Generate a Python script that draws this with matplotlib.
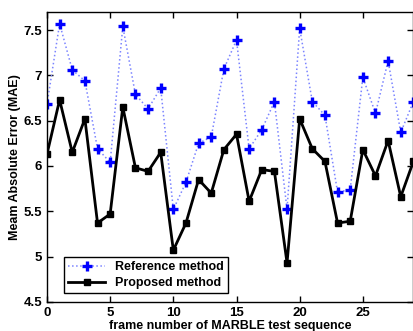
import numpy as np
import matplotlib.pyplot as plt

plt.rcParams['font.family'] = ['Liberation Sans', 'DejaVu Sans']
plt.rcParams['font.weight'] = 'bold'

frames = np.arange(30)
reference_mae = [6.68, 7.57, 7.06, 6.94, 6.19, 6.04, 7.54, 6.79, 6.63, 6.86,
                 5.52, 5.82, 6.25, 6.32, 7.07, 7.39, 6.19, 6.40, 6.71, 5.52,
                 7.52, 6.71, 6.56, 5.71, 5.74, 6.98, 6.58, 7.16, 6.37, 6.71]
proposed_mae = [6.13, 6.73, 6.15, 6.52, 5.37, 5.47, 6.65, 5.98, 5.94, 6.15,
                5.07, 5.37, 5.85, 5.70, 6.18, 6.35, 5.61, 5.96, 5.94, 4.93,
                6.52, 6.19, 6.05, 5.37, 5.39, 6.18, 5.89, 6.28, 5.66, 6.05]

fig = plt.figure(figsize=(4.14, 3.31), dpi=100)
ax = fig.add_axes([0.1135, 0.088, 0.885, 0.876])

ax.plot(frames, reference_mae, color='#7b84ff', linestyle=':', linewidth=1.1,
        marker='+', markersize=7, markeredgewidth=2.4,
        markeredgecolor='#0000ff', label='Reference method')
ax.plot(frames, proposed_mae, color='black', linestyle='-', linewidth=2,
        marker='s', markersize=5, markerfacecolor='black',
        label='Proposed method')

ax.set_xlim(0, 29)
ax.set_ylim(4.5, 7.7)
ax.set_xticks([0, 5, 10, 15, 20, 25])
ax.set_yticks([4.5, 5, 5.5, 6, 6.5, 7, 7.5])
ax.set_yticklabels(['4.5', '5', '5.5', '6', '6.5', '7', '7.5'])
ax.tick_params(direction='in', top=True, right=True, labelsize=9.5,
               length=4, width=1)
for s in ax.spines.values():
    s.set_linewidth(1)

ax.set_xlabel('frame number of MARBLE test sequence', fontsize=9,
              fontweight='bold', labelpad=1)
ax.set_ylabel('Meam Absolute Error (MAE)', fontsize=9, fontweight='bold',
              labelpad=2)

leg = ax.legend(loc='lower left', bbox_to_anchor=(0.03, 0.01), fontsize=9,
                fancybox=False, framealpha=1, edgecolor='black',
                handlelength=3.0, borderpad=0.3, labelspacing=0.3)
leg.get_frame().set_linewidth(1)

fig.savefig('out.png', dpi=100)
